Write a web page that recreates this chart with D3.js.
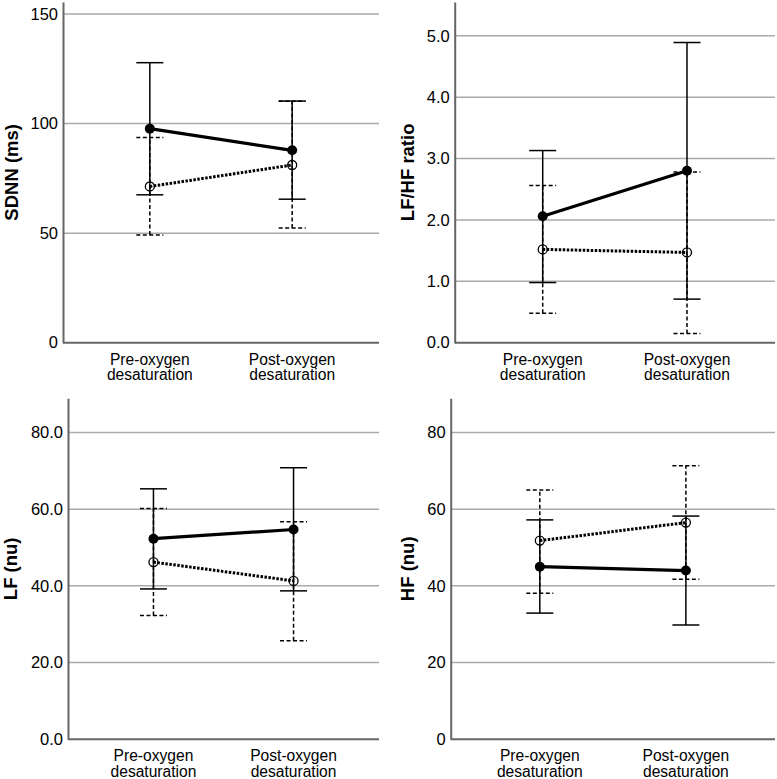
<!DOCTYPE html>
<html>
<head>
<meta charset="utf-8">
<script src="https://cdn.jsdelivr.net/npm/d3@7"></script>
<style>
  body { margin: 0; background: #fff; }
  svg { display: block; font-family: "Liberation Sans", Arial, sans-serif; }
</style>
</head>
<body>
<div id="container"></div>
<script>
let width = 777
let height = 779

// categories on the x axis (two lines each)
const categories = ["Pre-oxygen desaturation", "Post-oxygen desaturation"]
const categoryLines = [["Pre-oxygen", "desaturation"], ["Post-oxygen", "desaturation"]]

// SDNN (ms)
const sdnnFilled = [97.7, 87.8]
const sdnnFilledLo = [67.5, 65.5]
const sdnnFilledHi = [127.8, 110.3]
const sdnnOpen = [71.3, 81.1]
const sdnnOpenLo = [49.1, 52.3]
const sdnnOpenHi = [93.6, 110.2]
const sdnnTicks = [0, 50, 100, 150]

// LF/HF ratio
const ratioFilled = [2.06, 2.80]
const ratioFilledLo = [0.98, 0.71]
const ratioFilledHi = [3.13, 4.89]
const ratioOpen = [1.52, 1.47]
const ratioOpenLo = [0.48, 0.15]
const ratioOpenHi = [2.56, 2.78]
const ratioTicks = [0, 1, 2, 3, 4, 5]

// LF (nu)
const lfFilled = [52.3, 54.7]
const lfFilledLo = [39.2, 38.7]
const lfFilledHi = [65.3, 70.8]
const lfOpen = [46.2, 41.3]
const lfOpenLo = [32.3, 25.7]
const lfOpenHi = [60.2, 56.7]
const lfTicks = [0, 20, 40, 60, 80]

// HF (nu)
const hfFilled = [45.0, 44.0]
const hfFilledLo = [32.9, 29.8]
const hfFilledHi = [57.2, 58.2]
const hfOpen = [51.8, 56.5]
const hfOpenLo = [38.1, 41.7]
const hfOpenHi = [65.0, 71.3]
const hfTicks = [0, 20, 40, 60, 80]

const makeSeries = (m, lo, hi) => categories.map((c, i) => ({ cat: c, mean: m[i], lo: lo[i], hi: hi[i] }))

const panels = [
    { title: "SDNN (ms)", left: 63, right: 379, top: 2, bottom: 342.7, max: 155.5, ticks: sdnnTicks, fmt: d3.format("d"), titleX: 11,
      filled: makeSeries(sdnnFilled, sdnnFilledLo, sdnnFilledHi), open: makeSeries(sdnnOpen, sdnnOpenLo, sdnnOpenHi) },
    { title: "LF/HF ratio", left: 454.7, right: 775, top: 2, bottom: 342.7, max: 5.55, ticks: ratioTicks, fmt: d3.format(".1f"), titleX: 407,
      filled: makeSeries(ratioFilled, ratioFilledLo, ratioFilledHi), open: makeSeries(ratioOpen, ratioOpenLo, ratioOpenHi) },
    { title: "LF (nu)", left: 68, right: 379, top: 398.3, bottom: 739.3, max: 88.9, ticks: lfTicks, fmt: d3.format(".1f"), titleX: 10,
      filled: makeSeries(lfFilled, lfFilledLo, lfFilledHi), open: makeSeries(lfOpen, lfOpenLo, lfOpenHi) },
    { title: "HF (nu)", left: 450.7, right: 775, top: 398.3, bottom: 739.3, max: 88.9, ticks: hfTicks, fmt: d3.format("d"), titleX: 407,
      filled: makeSeries(hfFilled, hfFilledLo, hfFilledHi), open: makeSeries(hfOpen, hfOpenLo, hfOpenHi) }
]

let svg = d3.select("#container")
    .append("svg")
    .attr("width", width)
    .attr("height", height)
    .attr("viewBox", [0, 0, width, height])

const capHalf = 13.5

panels.forEach(p => {
    let x = d3.scalePoint()
        .domain(categories)
        .range([p.left, p.right])
        .padding(0.61)

    let y = d3.scaleLinear()
        .domain([0, p.max])
        .range([p.bottom, p.top])

    const g = svg.append("g")

    // gridlines
    g.append("g")
        .selectAll("line")
        .data(p.ticks.filter(t => t > 0))
        .join("line")
        .attr("x1", p.left)
        .attr("x2", p.right)
        .attr("y1", d => y(d))
        .attr("y2", d => y(d))
        .attr("stroke", "#aaaaaa")
        .attr("stroke-width", 1.5)

    // Y axis
    let yAxis = g.append("g")
        .attr("transform", `translate(${p.left},0)`)
        .call(d3.axisLeft(y).tickValues(p.ticks).tickFormat(p.fmt).tickSize(0).tickPadding(5))
    yAxis.select(".domain").attr("stroke", "#666").attr("stroke-width", 2)
    yAxis.selectAll("text")
        .attr("font-size", 16.5)
        .attr("font-family", "Liberation Sans, Arial, sans-serif")
        .attr("fill", "#000")

    // X axis (no ticks, just the baseline)
    let xAxis = g.append("g")
        .attr("transform", `translate(0,${p.bottom})`)
        .call(d3.axisBottom(x).tickSize(0).tickFormat(""))
    xAxis.select(".domain").attr("stroke", "#666").attr("stroke-width", 2)
        .attr("d", `M${p.left},0H${p.right}`)

    // category labels, one text per line
    categories.forEach((c, ci) => {
        g.append("g")
            .selectAll("text")
            .data(categoryLines[ci])
            .join("text")
            .attr("text-anchor", "middle")
            .attr("font-size", 15.6)
            .attr("fill", "#000")
            .attr("x", x(c))
            .attr("y", (d, i) => p.bottom + 22 + i * 15.5)
            .text(d => d)
    })

    // axis title
    g.append("text")
        .attr("transform", `translate(${p.titleX},${(p.top + p.bottom) / 2}) rotate(-90)`)
        .attr("text-anchor", "middle")
        .attr("dominant-baseline", "central")
        .attr("font-size", 18.5)
        .attr("font-weight", "bold")
        .attr("fill", "#000")
        .text(p.title)

    // error bars
    const drawBars = (data, dash) => {
        const eb = g.append("g")
            .attr("stroke", "#000")
            .attr("stroke-width", 1.5)
            .attr("stroke-dasharray", dash)
            .attr("fill", "none")
        eb.selectAll(".v").data(data).join("line")
            .attr("x1", d => x(d.cat)).attr("x2", d => x(d.cat))
            .attr("y1", d => y(d.lo)).attr("y2", d => y(d.hi))
        eb.selectAll(".hi").data(data).join("line")
            .attr("x1", d => x(d.cat) - capHalf).attr("x2", d => x(d.cat) + capHalf)
            .attr("y1", d => y(d.hi)).attr("y2", d => y(d.hi))
        eb.selectAll(".lo").data(data).join("line")
            .attr("x1", d => x(d.cat) - capHalf).attr("x2", d => x(d.cat) + capHalf)
            .attr("y1", d => y(d.lo)).attr("y2", d => y(d.lo))
    }
    drawBars(p.open, "4,2.5")
    drawBars(p.filled, null)

    let line = d3.line()
        .x(d => x(d.cat))
        .y(d => y(d.mean))

    g.append("path")
        .datum(p.open)
        .attr("fill", "none")
        .attr("stroke", "#000")
        .attr("stroke-width", 3)
        .attr("stroke-dasharray", "2.5,1.5")
        .attr("d", line)

    g.append("path")
        .datum(p.filled)
        .attr("fill", "none")
        .attr("stroke", "#000")
        .attr("stroke-width", 3.2)
        .attr("d", line)

    g.append("g")
        .selectAll("circle")
        .data(p.open)
        .join("circle")
        .attr("cx", d => x(d.cat))
        .attr("cy", d => y(d.mean))
        .attr("r", 4.5)
        .attr("fill", "none")
        .attr("stroke", "#000")
        .attr("stroke-width", 1.3)

    g.append("g")
        .selectAll("circle")
        .data(p.filled)
        .join("circle")
        .attr("cx", d => x(d.cat))
        .attr("cy", d => y(d.mean))
        .attr("r", 5)
        .attr("fill", "#000")
})
</script>
</body>
</html>
